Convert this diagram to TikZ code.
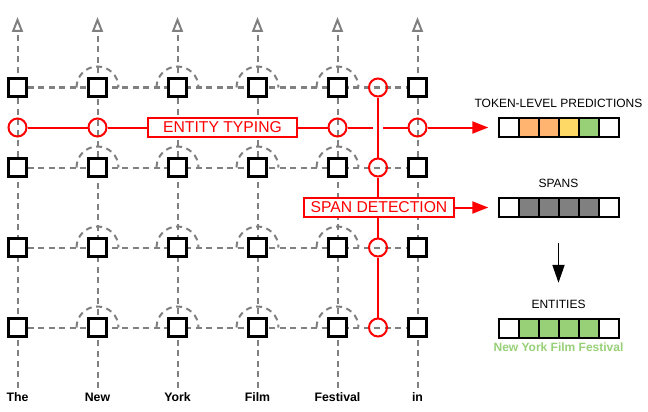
\documentclass[tikz,border=0pt]{standalone}
\usepackage{fontspec}
\setmainfont{Liberation Sans}
\usetikzlibrary{arrows.meta,positioning,matrix,backgrounds}
\definecolor{tokorange}{HTML}{FFB570}
\definecolor{tokyellow}{HTML}{FFD966}
\definecolor{tokgreen}{HTML}{97D077}
\tikzset{
hidden/.style={
  draw=black, line width=2.2pt, fill=white,
  minimum size=18pt, inner sep=0pt
  },
probe/.style={
  circle, draw=red, line width=2pt,
  minimum size=18pt, inner sep=0pt
  },
taskbox/.style={
  draw=red, line width=2pt, fill=white, text=red,
  minimum height=19pt, inner sep=0pt,
  font=\fontsize{15.7}{18}\selectfont
  },
barmat/.style={
  matrix of nodes,
  nodes in empty cells,
  inner sep=0pt,
  nodes={draw=black, line width=2pt, minimum width=20pt,
    minimum height=19pt, inner sep=0pt},
  column sep=-2pt
  },
barlabel/.style={
  inner sep=0pt, font=\fontsize{12}{14}\selectfont
  },
word/.style={
  inner sep=5pt, font=\fontsize{12.3}{14}\selectfont\bfseries
  },
gridline/.style={gray, line width=2pt, dash pattern=on 6pt off 4.5pt},
redline/.style={red, line width=2pt}
}

\begin{document}
\begin{tikzpicture}[x=1pt, y=1pt]
\useasboundingbox (0,0) rectangle (648,-412);

% words
\node[word] (W-0) at (17.5,-397.5) {The};
\node[word] (W-1) at (97.5,-397.5) {New};
\node[word] (W-2) at (177.5,-397.5) {York};
\node[word] (W-3) at (257.5,-397.5) {Film};
\node[word] (W-4) at (337.5,-397.5) {Festival};
\node[word] (W-5) at (417.5,-397.5) {in};

\coordinate (T-0) at (17.5,-17);
\coordinate (T-1) at (97.5,-17);
\coordinate (T-2) at (177.5,-17);
\coordinate (T-3) at (257.5,-17);
\coordinate (T-4) at (337.5,-17);
\coordinate (T-5) at (417.5,-17);

% row 1
\node[hidden] (H1-0) at (17.5,-87.5) {};
\node[hidden] (H1-1) at (97.5,-87.5) {};
\node[hidden] (H1-2) at (177.5,-87.5) {};
\node[hidden] (H1-3) at (257.5,-87.5) {};
\node[hidden] (H1-4) at (337.5,-87.5) {};
\node[hidden] (H1-5) at (417.5,-87.5) {};

% row 2
\node[hidden] (H2-0) at (17.5,-167.5) {};
\node[hidden] (H2-1) at (97.5,-167.5) {};
\node[hidden] (H2-2) at (177.5,-167.5) {};
\node[hidden] (H2-3) at (257.5,-167.5) {};
\node[hidden] (H2-4) at (337.5,-167.5) {};
\node[hidden] (H2-5) at (417.5,-167.5) {};

% row 3
\node[hidden] (H3-0) at (17.5,-247.5) {};
\node[hidden] (H3-1) at (97.5,-247.5) {};
\node[hidden] (H3-2) at (177.5,-247.5) {};
\node[hidden] (H3-3) at (257.5,-247.5) {};
\node[hidden] (H3-4) at (337.5,-247.5) {};
\node[hidden] (H3-5) at (417.5,-247.5) {};

% row 4
\node[hidden] (H4-0) at (17.5,-327.5) {};
\node[hidden] (H4-1) at (97.5,-327.5) {};
\node[hidden] (H4-2) at (177.5,-327.5) {};
\node[hidden] (H4-3) at (257.5,-327.5) {};
\node[hidden] (H4-4) at (337.5,-327.5) {};
\node[hidden] (H4-5) at (417.5,-327.5) {};

% entity typing
\node[probe] (E-0) at (17.5,-127.5) {};
\node[probe] (E-1) at (97.5,-127.5) {};
\node[taskbox, minimum width=149pt] (ET) at (222.5,-127.5) {ENTITY TYPING};
\node[probe] (E-4) at (337.5,-127.5) {};
\node[probe] (E-5) at (417.5,-127.5) {};

% span detection
\node[probe] (S-1) at (378,-87.5) {};
\node[probe] (S-2) at (378,-167.5) {};
\node[probe] (S-3) at (378,-247.5) {};
\node[probe] (S-4) at (378,-327.5) {};
\node[taskbox, minimum width=150pt] (SD) at (379,-207.5) {SPAN DETECTION};

% outputs
\matrix[barmat,
    row 1 column 2/.style={nodes={fill=tokorange}},
    row 1 column 3/.style={nodes={fill=tokorange}},
    row 1 column 4/.style={nodes={fill=tokyellow}},
    row 1 column 5/.style={nodes={fill=tokgreen}}]
at (558.5,-127.5)
(pred)
{ & & & & & \\ };

\matrix[barmat,
    row 1 column 2/.style={nodes={fill=gray}},
    row 1 column 3/.style={nodes={fill=gray}},
    row 1 column 4/.style={nodes={fill=gray}},
    row 1 column 5/.style={nodes={fill=gray}}]
at (558.5,-207.5)
(spans)
{ & & & & & \\ };

\matrix[barmat,
    row 1 column 2/.style={nodes={fill=tokgreen}},
    row 1 column 3/.style={nodes={fill=tokgreen}},
    row 1 column 4/.style={nodes={fill=tokgreen}},
    row 1 column 5/.style={nodes={fill=tokgreen}}]
at (558.5,-328.5)
(ent)
{ & & & & & \\ };

\node[barlabel, above=8.5pt of pred] (predlabel) {TOKEN-LEVEL PREDICTIONS};
\node[barlabel, above=8.5pt of spans] (spanslabel) {SPANS};
\node[barlabel, above=8.5pt of ent] (entlabel) {ENTITIES};
\node[barlabel, below=3.5pt of ent, text=tokgreen,
    font=\fontsize{12}{14}\selectfont\bfseries] (entname) {New York Film Festival};

% lstm grid
\begin{scope}[on background layer]
\draw[gridline, -{Triangle[open, length=15pt, width=11pt]}] (W-0.north) -- (T-0);
\draw[gridline, -{Triangle[open, length=15pt, width=11pt]}] (W-1.north) -- (T-1);
\draw[gridline, -{Triangle[open, length=15pt, width=11pt]}] (W-2.north) -- (T-2);
\draw[gridline, -{Triangle[open, length=15pt, width=11pt]}] (W-3.north) -- (T-3);
\draw[gridline, -{Triangle[open, length=15pt, width=11pt]}] (W-4.north) -- (T-4);
\draw[gridline, -{Triangle[open, length=15pt, width=11pt]}] (W-5.north) -- (T-5);

\draw[gridline] (H1-0) -- (H1-5);
\draw[gridline] (H2-0) -- (H2-5);
\draw[gridline] (H3-0) -- (H3-5);
\draw[gridline] (H4-0) -- (H4-5);

\draw[gridline] ([xshift=-21pt]H1-1.center) arc[start angle=180, end angle=0, radius=21pt]
  ([xshift=-21pt]H1-2.center) arc[start angle=180, end angle=0, radius=21pt]
  ([xshift=-21pt]H1-3.center) arc[start angle=180, end angle=0, radius=21pt]
  ([xshift=-21pt]H1-4.center) arc[start angle=180, end angle=0, radius=21pt];
\draw[gridline] ([xshift=-21pt]H2-1.center) arc[start angle=180, end angle=0, radius=21pt]
  ([xshift=-21pt]H2-2.center) arc[start angle=180, end angle=0, radius=21pt]
  ([xshift=-21pt]H2-3.center) arc[start angle=180, end angle=0, radius=21pt]
  ([xshift=-21pt]H2-4.center) arc[start angle=180, end angle=0, radius=21pt];
\draw[gridline] ([xshift=-21pt]H3-1.center) arc[start angle=180, end angle=0, radius=21pt]
  ([xshift=-21pt]H3-2.center) arc[start angle=180, end angle=0, radius=21pt]
  ([xshift=-21pt]H3-3.center) arc[start angle=180, end angle=0, radius=21pt]
  ([xshift=-21pt]H3-4.center) arc[start angle=180, end angle=0, radius=21pt];
\draw[gridline] ([xshift=-21pt]H4-1.center) arc[start angle=180, end angle=0, radius=21pt]
  ([xshift=-21pt]H4-2.center) arc[start angle=180, end angle=0, radius=21pt]
  ([xshift=-21pt]H4-3.center) arc[start angle=180, end angle=0, radius=21pt]
  ([xshift=-21pt]H4-4.center) arc[start angle=180, end angle=0, radius=21pt];
\end{scope}

% entity typing links
\coordinate (hop) at (S-1 |- E-4);
\draw[redline] (E-0) -- (E-1);
\draw[redline] (E-1) -- (ET);
\draw[redline] (ET) -- (E-4);
\draw[redline] (E-4) -- ([xshift=-5pt]hop);
\draw[redline] ([xshift=5pt]hop) -- (E-5);
\draw[redline, -{Triangle[length=16pt, width=12pt]}] (E-5) -- ([xshift=-9pt]pred.west);

% span detection links
\draw[redline] (S-1) -- (S-2);
\draw[redline] (S-2) -- (S-2 |- SD.north);
\draw[redline] (S-3 |- SD.south) -- (S-3);
\draw[redline] (S-3) -- (S-4);
\draw[redline, -{Triangle[length=16pt, width=12pt]}] (SD) -- ([xshift=-9pt]spans.west);

% spans to entities
\coordinate (spansf) at ([yshift=-25pt]spans.south);
\coordinate (entf) at ([yshift=35pt]ent.north);
\draw[line width=1.8pt, -{Triangle[length=18pt, width=12pt]}] (spansf) -- (entf);

\end{tikzpicture}
\end{document}
